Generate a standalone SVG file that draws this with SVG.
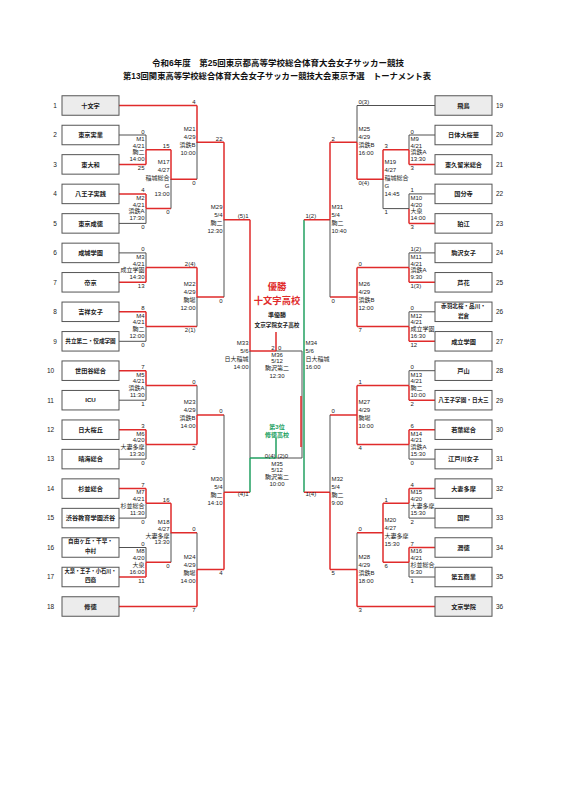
<svg xmlns="http://www.w3.org/2000/svg" width="566" height="800" viewBox="0 0 566 800">
<style>
text{font-family:"Liberation Sans","Noto Sans CJK JP",sans-serif;fill:#222}
.t{font-size:8.5px;font-weight:bold;text-anchor:middle;fill:#111}
.bx{fill:#fff;stroke:#555;stroke-width:1}
.sd{fill:#ececec;stroke:#555;stroke-width:1}
.nm{font-size:6.2px;font-weight:bold;text-anchor:middle}
.n2{font-size:5.6px;font-weight:bold;text-anchor:middle}
.no{font-size:6.5px}
.nc{font-size:6.5px;text-anchor:middle}
.l{font-size:6px;text-anchor:end}
.rt{font-size:6px;text-anchor:start}
.c{font-size:6px;text-anchor:middle}
.r{stroke:#e02b2b;stroke-width:1.5;fill:none}
.k{stroke:#505050;stroke-width:1;fill:none}
.gr{stroke:#22a061;stroke-width:1.5;fill:none}
.win{fill:#e02b2b;font-weight:bold;font-size:9.3px;text-anchor:middle}
.ru{font-weight:bold;text-anchor:middle}
.th{fill:#22a061;font-weight:bold;font-size:6px;text-anchor:middle}
</style>

<g id="title">
<text class="t" x="278" y="66" textLength="252" lengthAdjust="spacingAndGlyphs">令和6年度　第25回東京都高等学校総合体育大会女子サッカー競技</text>
<text class="t" x="277" y="78.5" textLength="308" lengthAdjust="spacingAndGlyphs">第13回関東高等学校総合体育大会女子サッカー競技大会東京予選　トーナメント表</text>
</g>

<g id="connectors">
<!-- left box lines -->
<path class="r" d="M119 105.5H197M119 164.4H146M119 193.9H146M119 282.3H146M119 311.8H146M119 370.7H146M119 429.7H146M119 488.6H146M119 577H146M119 606.5H197"/>
<path class="k" d="M119 135H146M119 223.4H146M119 252.9H146M119 341.3H146M119 400.2H146M119 459.1H146M119 518.1H146M119 547.5H146"/>
<!-- left R1 -->
<path class="k" d="M146 135V149.7M146 208.6V223.4M146 252.9V267.6M146 326.5V341.3M146 385.5V400.2M146 444.4V459.1M146 503.3V518.1M146 547.5V562.3"/>
<path class="r" d="M146 149.7V164.4M146 193.9V208.6M146 267.6V282.3M146 311.8V326.5M146 370.7V385.5M146 429.7V444.4M146 488.6V503.3M146 562.3V577"/>
<path class="r" d="M146 149.7H171M146 208.6H171M146 267.6H197M146 326.5H197M146 385.5H197M146 444.4H197M146 503.3H171M146 562.3H171"/>
<!-- left R2/R3 -->
<path class="r" d="M171 149.7V179.2H197M171 503.3V532.8H197M197 105.5V142.3H224M197 267.6V297.1H224M197 414.9V444.4M197 414.9H224M197 569.6V606.5M197 569.6H224"/>
<path class="k" d="M171 179.2V208.6M171 532.8V562.3M197 142.3V179.2M197 297.1V326.5M197 385.5V414.9M197 532.8V569.6"/>
<!-- left R4 -->
<path class="r" d="M224 142.3V219.7H250M224 492.3V569.6M224 492.3H250"/>
<path class="k" d="M224 219.7V297.1M224 414.9V492.3"/>
<!-- center -->
<path class="r" d="M250 219.7V351H276M276 332V351"/>
<path class="k" d="M250 351V458M276 351H302V458H276"/>
<path class="gr" d="M250 458V492.3M250 458H276M276 438V458"/>
<path class="gr" d="M304 219.7V492.3"/>
<path class="r" d="M301 396V447"/>
<path class="r" d="M304 219.7H330M304 492.3H330"/>
<!-- right box lines -->
<path class="k" d="M357 105.5H435M409 135H435M409 193.9H435M409 252.9H435M409 311.8H435M409 370.7H435M409 459.1H435M409 518.1H435M409 577H435"/>
<path class="r" d="M409 164.4H435M409 223.4H435M409 282.3H435M409 341.3H435M409 400.2H435M409 429.7H435M409 488.6H435M409 547.5H435M357 606.5H435"/>
<!-- right R1 -->
<path class="k" d="M409 135V149.7M409 193.9V208.6M409 252.9V267.6M409 311.8V326.5M409 370.7V385.5M409 444.4V459.1M409 503.3V518.1M409 562.3V577"/>
<path class="r" d="M409 149.7V164.4M409 208.6V223.4M409 267.6V282.3M409 326.5V341.3M409 385.5V400.2M409 429.7V444.4M409 488.6V503.3M409 547.5V562.3"/>
<path class="r" d="M409 149.7H383M409 267.6H357M409 326.5H357M409 385.5H357M409 444.4H357M409 503.3H383M409 562.3H383"/>
<path class="k" d="M409 208.6H383"/>
<!-- right R2/R3 -->
<path class="r" d="M383 149.7V179.2H357M383 503.3V562.3M383 532.8H357M357 142.3V179.2M357 142.3H330M357 267.6V326.5M357 297.1H330M357 385.5V444.4M357 414.9H330M357 569.6V606.5M357 569.6H330"/>
<path class="k" d="M383 179.2V208.6M357 105.5V142.3M357 532.8V569.6"/>
<!-- right R4 -->
<path class="r" d="M330 142.3V219.7M330 492.3V569.6"/>
<path class="k" d="M330 219.7V297.1M330 414.9V492.3"/>
</g>

<g id="team-1"><rect class="sd" x="62" y="95.75" width="57" height="19.5"/><text class="nm" x="90.5" y="107.7">十文字</text><text class="nc" x="55" y="107.8">1</text></g>
<g id="team-2"><rect class="bx" x="62" y="125.25" width="57" height="19.5"/><text class="nm" x="90.5" y="137.2">東京実業</text><text class="nc" x="55" y="137.3">2</text></g>
<g id="team-3"><rect class="bx" x="62" y="154.65" width="57" height="19.5"/><text class="nm" x="90.5" y="166.6">東大和</text><text class="nc" x="55" y="166.7">3</text></g>
<g id="team-4"><rect class="bx" x="62" y="184.15" width="57" height="19.5"/><text class="nm" x="90.5" y="196.1">八王子実践</text><text class="nc" x="55" y="196.2">4</text></g>
<g id="team-5"><rect class="bx" x="62" y="213.65" width="57" height="19.5"/><text class="nm" x="90.5" y="225.6">東京成徳</text><text class="nc" x="55" y="225.7">5</text></g>
<g id="team-6"><rect class="bx" x="62" y="243.15" width="57" height="19.5"/><text class="nm" x="90.5" y="255.1">成城学園</text><text class="nc" x="55" y="255.2">6</text></g>
<g id="team-7"><rect class="bx" x="62" y="272.55" width="57" height="19.5"/><text class="nm" x="90.5" y="284.5">帝京</text><text class="nc" x="55" y="284.6">7</text></g>
<g id="team-8"><rect class="bx" x="62" y="302.05" width="57" height="19.5"/><text class="nm" x="90.5" y="314">吉祥女子</text><text class="nc" x="55" y="314.1">8</text></g>
<g id="team-9"><rect class="bx" x="62" y="331.55" width="57" height="19.5"/><text class="n2" x="90.5" y="343.3">共立第二・佼成学園</text><text class="nc" x="55" y="343.6">9</text></g>
<g id="team-10"><rect class="bx" x="62" y="360.95" width="57" height="19.5"/><text class="nm" x="90.5" y="372.9">世田谷総合</text><text class="nc" x="50.5" y="373">10</text></g>
<g id="team-11"><rect class="bx" x="62" y="390.45" width="57" height="19.5"/><text class="nm" x="90.5" y="402.4">ICU</text><text class="nc" x="50.5" y="402.5">11</text></g>
<g id="team-12"><rect class="bx" x="62" y="419.95" width="57" height="19.5"/><text class="nm" x="90.5" y="431.9">日大桜丘</text><text class="nc" x="50.5" y="432">12</text></g>
<g id="team-13"><rect class="bx" x="62" y="449.35" width="57" height="19.5"/><text class="nm" x="90.5" y="461.3">晴海総合</text><text class="nc" x="50.5" y="461.4">13</text></g>
<g id="team-14"><rect class="bx" x="62" y="478.85" width="57" height="19.5"/><text class="nm" x="90.5" y="490.8">杉並総合</text><text class="nc" x="50.5" y="490.9">14</text></g>
<g id="team-15"><rect class="bx" x="62" y="508.35" width="57" height="19.5"/><text class="nm" x="90.5" y="520.3">渋谷教育学園渋谷</text><text class="nc" x="50.5" y="520.4">15</text></g>
<g id="team-16"><rect class="bx" x="62" y="537.75" width="57" height="19.5"/><text class="n2" x="90.5" y="543">自由ヶ丘・千早・</text><text class="n2" x="90.5" y="553">中村</text><text class="nc" x="50.5" y="549.8">16</text></g>
<g id="team-17"><rect class="bx" x="62" y="567.25" width="57" height="19.5"/><text class="n2" x="90.5" y="572.8" textLength="52" lengthAdjust="spacingAndGlyphs">大泉・王子・小石川・</text><text class="n2" x="90.5" y="582.3">四商</text><text class="nc" x="50.5" y="579.3">17</text></g>
<g id="team-18"><rect class="sd" x="62" y="596.75" width="57" height="19.5"/><text class="nm" x="90.5" y="608.7">修徳</text><text class="nc" x="50.5" y="608.8">18</text></g>

<g id="team-19"><rect class="sd" x="435" y="95.75" width="57" height="19.5"/><text class="nm" x="463.5" y="107.7">飛鳥</text><text class="no" x="496" y="107.8">19</text></g>
<g id="team-20"><rect class="bx" x="435" y="125.25" width="57" height="19.5"/><text class="nm" x="463.5" y="137.2">日体大桜華</text><text class="no" x="496" y="137.3">20</text></g>
<g id="team-21"><rect class="bx" x="435" y="154.65" width="57" height="19.5"/><text class="nm" x="463.5" y="166.6">東久留米総合</text><text class="no" x="496" y="166.7">21</text></g>
<g id="team-22"><rect class="bx" x="435" y="184.15" width="57" height="19.5"/><text class="nm" x="463.5" y="196.1">国分寺</text><text class="no" x="496" y="196.2">22</text></g>
<g id="team-23"><rect class="bx" x="435" y="213.65" width="57" height="19.5"/><text class="nm" x="463.5" y="225.6">狛江</text><text class="no" x="496" y="225.7">23</text></g>
<g id="team-24"><rect class="bx" x="435" y="243.15" width="57" height="19.5"/><text class="nm" x="463.5" y="255.1">駒沢女子</text><text class="no" x="496" y="255.2">24</text></g>
<g id="team-25"><rect class="bx" x="435" y="272.55" width="57" height="19.5"/><text class="nm" x="463.5" y="284.5">芦花</text><text class="no" x="496" y="284.6">25</text></g>
<g id="team-26"><rect class="bx" x="435" y="302.05" width="57" height="19.5"/><text class="n2" x="463.5" y="308">赤羽北桜・品川・</text><text class="n2" x="463.5" y="317.8">岩倉</text><text class="no" x="496" y="314.1">26</text></g>
<g id="team-27"><rect class="bx" x="435" y="331.55" width="57" height="19.5"/><text class="nm" x="463.5" y="343.5">成立学園</text><text class="no" x="496" y="343.6">27</text></g>
<g id="team-28"><rect class="bx" x="435" y="360.95" width="57" height="19.5"/><text class="nm" x="463.5" y="372.9">戸山</text><text class="no" x="496" y="373">28</text></g>
<g id="team-29"><rect class="bx" x="435" y="390.45" width="57" height="19.5"/><text class="n2" x="463.5" y="402.2">八王子学園・日大三</text><text class="no" x="496" y="402.5">29</text></g>
<g id="team-30"><rect class="bx" x="435" y="419.95" width="57" height="19.5"/><text class="nm" x="463.5" y="431.9">若葉総合</text><text class="no" x="496" y="432">30</text></g>
<g id="team-31"><rect class="bx" x="435" y="449.35" width="57" height="19.5"/><text class="nm" x="463.5" y="461.3">江戸川女子</text><text class="no" x="496" y="461.4">31</text></g>
<g id="team-32"><rect class="bx" x="435" y="478.85" width="57" height="19.5"/><text class="nm" x="463.5" y="490.8">大妻多摩</text><text class="no" x="496" y="490.9">32</text></g>
<g id="team-33"><rect class="bx" x="435" y="508.35" width="57" height="19.5"/><text class="nm" x="463.5" y="520.3">国際</text><text class="no" x="496" y="520.4">33</text></g>
<g id="team-34"><rect class="bx" x="435" y="537.75" width="57" height="19.5"/><text class="nm" x="463.5" y="549.7">潤徳</text><text class="no" x="496" y="549.8">34</text></g>
<g id="team-35"><rect class="bx" x="435" y="567.25" width="57" height="19.5"/><text class="nm" x="463.5" y="579.2">第五商業</text><text class="no" x="496" y="579.3">35</text></g>
<g id="team-36"><rect class="sd" x="435" y="596.75" width="57" height="19.5"/><text class="nm" x="463.5" y="608.7">文京学院</text><text class="no" x="496" y="608.8">36</text></g>

<!-- left matches -->
<g id="M1"><text class="l" x="144.5" y="133.5">0</text><text class="l" x="144.5" y="140.8">M1</text><text class="l" x="144.5" y="147.6">4/21</text><text class="l" x="144.5" y="154.4">駒二</text><text class="l" x="144.5" y="161.2">14:00</text><text class="l" x="144.5" y="169.9">25</text></g>
<g id="M2"><text class="l" x="144.5" y="192.4">4</text><text class="l" x="144.5" y="199.7">M2</text><text class="l" x="144.5" y="206.5">4/21</text><text class="l" x="144.5" y="213.3">浜鉄A</text><text class="l" x="144.5" y="220.1">17:30</text><text class="l" x="144.5" y="228.9">0</text></g>
<g id="M3"><text class="l" x="144.5" y="251.4">0</text><text class="l" x="144.5" y="258.7">M3</text><text class="l" x="144.5" y="265.5">4/21</text><text class="l" x="144.5" y="272.3">成立学園</text><text class="l" x="144.5" y="279.1">14:30</text><text class="l" x="144.5" y="287.8">13</text></g>
<g id="M4"><text class="l" x="144.5" y="310.3">8</text><text class="l" x="144.5" y="317.6">M4</text><text class="l" x="144.5" y="324.4">4/21</text><text class="l" x="144.5" y="331.2">駒二</text><text class="l" x="144.5" y="338">12:00</text><text class="l" x="144.5" y="346.8">0</text></g>
<g id="M5"><text class="l" x="144.5" y="369.2">7</text><text class="l" x="144.5" y="376.6">M5</text><text class="l" x="144.5" y="383.4">4/21</text><text class="l" x="144.5" y="390.2">浜鉄A</text><text class="l" x="144.5" y="397">11:30</text><text class="l" x="144.5" y="405.7">1</text></g>
<g id="M6"><text class="l" x="144.5" y="428.2">3</text><text class="l" x="144.5" y="435.5">M6</text><text class="l" x="144.5" y="442.3">4/20</text><text class="l" x="144.5" y="449.1">大妻多摩</text><text class="l" x="144.5" y="455.9">13:30</text><text class="l" x="144.5" y="464.6">0</text></g>
<g id="M7"><text class="l" x="144.5" y="487.1">7</text><text class="l" x="144.5" y="494.4">M7</text><text class="l" x="144.5" y="501.2">4/21</text><text class="l" x="144.5" y="508">杉並総合</text><text class="l" x="144.5" y="514.8">11:30</text><text class="l" x="144.5" y="523.6">0</text></g>
<g id="M8"><text class="l" x="144.5" y="546">0</text><text class="l" x="144.5" y="553.4">M8</text><text class="l" x="144.5" y="560.2">4/20</text><text class="l" x="144.5" y="567">大泉</text><text class="l" x="144.5" y="573.8">16:00</text><text class="l" x="144.5" y="582.5">11</text></g>
<g id="M17"><text class="l" x="169.5" y="148.2">15</text><text class="l" x="169.5" y="164.3">M17</text><text class="l" x="169.5" y="172.3">4/27</text><text class="l" x="169.5" y="180.3">稲城総合</text><text class="l" x="169.5" y="188.3">G</text><text class="l" x="169.5" y="196.3">13:00</text><text class="l" x="169.5" y="214.1">0</text></g>
<g id="M18"><text class="l" x="169.5" y="501.8">16</text><text class="l" x="169.5" y="523.9">M18</text><text class="l" x="169.5" y="530.7">4/27</text><text class="l" x="169.5" y="537.5">大妻多摩</text><text class="l" x="169.5" y="544.3">13:30</text><text class="l" x="169.5" y="567.8">0</text></g>
<g id="M21"><text class="l" x="195.5" y="104">4</text><text class="l" x="195.5" y="131.4">M21</text><text class="l" x="195.5" y="139.4">4/29</text><text class="l" x="195.5" y="147.4">浜鉄B</text><text class="l" x="195.5" y="155.4">10:00</text><text class="l" x="195.5" y="184.7">0</text></g>
<g id="M22"><text class="l" x="195.5" y="266.1">2(4)</text><text class="l" x="195.5" y="286.2">M22</text><text class="l" x="195.5" y="294.2">4/29</text><text class="l" x="195.5" y="302.2">駒場</text><text class="l" x="195.5" y="310.2">12:00</text><text class="l" x="195.5" y="332">2(1)</text></g>
<g id="M23"><text class="l" x="195.5" y="384">0</text><text class="l" x="195.5" y="404">M23</text><text class="l" x="195.5" y="412">4/29</text><text class="l" x="195.5" y="420">浜鉄B</text><text class="l" x="195.5" y="428">14:00</text><text class="l" x="195.5" y="449.9">2</text></g>
<g id="M24"><text class="l" x="195.5" y="531.3">0</text><text class="l" x="195.5" y="558.7">M24</text><text class="l" x="195.5" y="566.7">4/29</text><text class="l" x="195.5" y="574.7">駒場</text><text class="l" x="195.5" y="582.7">14:00</text><text class="l" x="195.5" y="612">7</text></g>
<g id="M29"><text class="l" x="222.5" y="140.8">22</text><text class="l" x="222.5" y="208.8">M29</text><text class="l" x="222.5" y="216.8">5/4</text><text class="l" x="222.5" y="224.8">駒二</text><text class="l" x="222.5" y="232.8">12:30</text><text class="l" x="222.5" y="302.6">0</text></g>
<g id="M30"><text class="l" x="222.5" y="413.4">0</text><text class="l" x="222.5" y="481.4">M30</text><text class="l" x="222.5" y="489.4">5/4</text><text class="l" x="222.5" y="497.4">駒二</text><text class="l" x="222.5" y="505.4">14:10</text><text class="l" x="222.5" y="575.1">4</text></g>
<g id="M33"><text class="l" x="248.5" y="218.2">(5)1</text><text class="l" x="248.5" y="345">M33</text><text class="l" x="248.5" y="353">5/6</text><text class="l" x="248.5" y="360.5">日大稲城</text><text class="l" x="248.5" y="368.5">14:00</text><text class="l" x="248.5" y="496.3">(4)1</text></g>

<!-- right matches -->
<g id="M9"><text class="rt" x="410.5" y="133.5">0</text><text class="rt" x="410.5" y="140.8">M9</text><text class="rt" x="410.5" y="147.6">4/21</text><text class="rt" x="410.5" y="154.4">浜鉄A</text><text class="rt" x="410.5" y="161.2">13:30</text><text class="rt" x="410.5" y="169.9">3</text></g>
<g id="M10"><text class="rt" x="410.5" y="192.4">1</text><text class="rt" x="410.5" y="199.7">M10</text><text class="rt" x="410.5" y="206.5">4/20</text><text class="rt" x="410.5" y="213.3">大泉</text><text class="rt" x="410.5" y="220.1">14:00</text><text class="rt" x="410.5" y="228.9">3</text></g>
<g id="M11"><text class="rt" x="410.5" y="251.4">1(2)</text><text class="rt" x="410.5" y="258.7">M11</text><text class="rt" x="410.5" y="265.5">4/21</text><text class="rt" x="410.5" y="272.3">浜鉄A</text><text class="rt" x="410.5" y="279.1">9:30</text><text class="rt" x="410.5" y="287.8">1(3)</text></g>
<g id="M12"><text class="rt" x="410.5" y="310.3">0</text><text class="rt" x="410.5" y="317.6">M12</text><text class="rt" x="410.5" y="324.4">4/21</text><text class="rt" x="410.5" y="331.2">成立学園</text><text class="rt" x="410.5" y="338">16:30</text><text class="rt" x="410.5" y="346.8">12</text></g>
<g id="M13"><text class="rt" x="410.5" y="369.2">0</text><text class="rt" x="410.5" y="376.6">M13</text><text class="rt" x="410.5" y="383.4">4/21</text><text class="rt" x="410.5" y="390.2">駒二</text><text class="rt" x="410.5" y="397">10:00</text><text class="rt" x="410.5" y="405.7">2</text></g>
<g id="M14"><text class="rt" x="410.5" y="428.2">6</text><text class="rt" x="410.5" y="435.5">M14</text><text class="rt" x="410.5" y="442.3">4/21</text><text class="rt" x="410.5" y="449.1">浜鉄A</text><text class="rt" x="410.5" y="455.9">15:30</text><text class="rt" x="410.5" y="464.6">0</text></g>
<g id="M15"><text class="rt" x="410.5" y="487.1">4</text><text class="rt" x="410.5" y="494.4">M15</text><text class="rt" x="410.5" y="501.2">4/20</text><text class="rt" x="410.5" y="508">大妻多摩</text><text class="rt" x="410.5" y="514.8">15:30</text><text class="rt" x="410.5" y="523.6">2</text></g>
<g id="M16"><text class="rt" x="410.5" y="546">7</text><text class="rt" x="410.5" y="553.4">M16</text><text class="rt" x="410.5" y="560.2">4/21</text><text class="rt" x="410.5" y="567">杉並総合</text><text class="rt" x="410.5" y="573.8">9:30</text><text class="rt" x="410.5" y="582.5">1</text></g>
<g id="M19"><text class="rt" x="384.5" y="148.2">3</text><text class="rt" x="384.5" y="164.3">M19</text><text class="rt" x="384.5" y="172.3">4/27</text><text class="rt" x="384.5" y="180.3">稲城総合</text><text class="rt" x="384.5" y="188.3">G</text><text class="rt" x="384.5" y="196.3">14:45</text><text class="rt" x="384.5" y="214.1">1</text></g>
<g id="M20"><text class="rt" x="384.5" y="501.8">1</text><text class="rt" x="384.5" y="521.9">M20</text><text class="rt" x="384.5" y="529.9">4/27</text><text class="rt" x="384.5" y="537.9">大妻多摩</text><text class="rt" x="384.5" y="545.9">15:30</text><text class="rt" x="384.5" y="567.8">6</text></g>
<g id="M25"><text class="rt" x="358.5" y="104">0(3)</text><text class="rt" x="358.5" y="131.4">M25</text><text class="rt" x="358.5" y="139.4">4/29</text><text class="rt" x="358.5" y="147.4">浜鉄B</text><text class="rt" x="358.5" y="155.4">16:00</text><text class="rt" x="358.5" y="184.7">0(4)</text></g>
<g id="M26"><text class="rt" x="358.5" y="266.1">0</text><text class="rt" x="358.5" y="286.2">M26</text><text class="rt" x="358.5" y="294.2">4/29</text><text class="rt" x="358.5" y="302.2">浜鉄B</text><text class="rt" x="358.5" y="310.2">12:00</text><text class="rt" x="358.5" y="332">7</text></g>
<g id="M27"><text class="rt" x="358.5" y="384">1</text><text class="rt" x="358.5" y="404">M27</text><text class="rt" x="358.5" y="412">4/29</text><text class="rt" x="358.5" y="420">駒場</text><text class="rt" x="358.5" y="428">10:00</text><text class="rt" x="358.5" y="449.9">4</text></g>
<g id="M28"><text class="rt" x="358.5" y="531.3">0</text><text class="rt" x="358.5" y="558.7">M28</text><text class="rt" x="358.5" y="566.7">4/29</text><text class="rt" x="358.5" y="574.7">浜鉄B</text><text class="rt" x="358.5" y="582.7">18:00</text><text class="rt" x="358.5" y="612">3</text></g>
<g id="M31"><text class="rt" x="331.5" y="140.8">2</text><text class="rt" x="331.5" y="208.8">M31</text><text class="rt" x="331.5" y="216.8">5/4</text><text class="rt" x="331.5" y="224.8">駒二</text><text class="rt" x="331.5" y="232.8">10:40</text><text class="rt" x="331.5" y="302.6">0</text></g>
<g id="M32"><text class="rt" x="331.5" y="413.4">0</text><text class="rt" x="331.5" y="481.4">M32</text><text class="rt" x="331.5" y="489.4">5/4</text><text class="rt" x="331.5" y="497.4">駒二</text><text class="rt" x="331.5" y="505.4">9:00</text><text class="rt" x="331.5" y="575.1">5</text></g>
<g id="M34"><text class="rt" x="305.5" y="218.2">1(2)</text><text class="rt" x="305.5" y="345">M34</text><text class="rt" x="305.5" y="353">5/6</text><text class="rt" x="305.5" y="360.5">日大稲城</text><text class="rt" x="305.5" y="368.5">16:00</text><text class="rt" x="305.5" y="496.3">1(4)</text></g>

<!-- final / third place -->
<g id="M36"><text class="l" x="274.5" y="349.5">2</text><text class="rt" x="278" y="349.5">0</text><text class="c" x="277" y="356.5">M36</text><text class="c" x="277" y="363">5/12</text><text class="c" x="277" y="370">駒沢第二</text><text class="c" x="277" y="378">12:30</text></g>
<g id="M35"><text class="l" x="275.5" y="457.5">0(4)</text><text class="rt" x="277.5" y="457.5">(2)0</text><text class="c" x="277" y="465.5">M35</text><text class="c" x="277" y="472">5/12</text><text class="c" x="277" y="478.5">駒沢第二</text><text class="c" x="277" y="486">10:00</text></g>
<g id="result">
<text class="win" x="277" y="289.5">優勝</text>
<text class="win" x="277" y="304">十文字高校</text>
<text class="ru" x="277" y="316.5" font-size="6">準優勝</text>
<text class="ru" x="277" y="327" font-size="5.6">文京学院女子高校</text>
<text class="th" x="277" y="429">第3位</text>
<text class="th" x="277" y="437">修徳高校</text>
</g>
</svg>
